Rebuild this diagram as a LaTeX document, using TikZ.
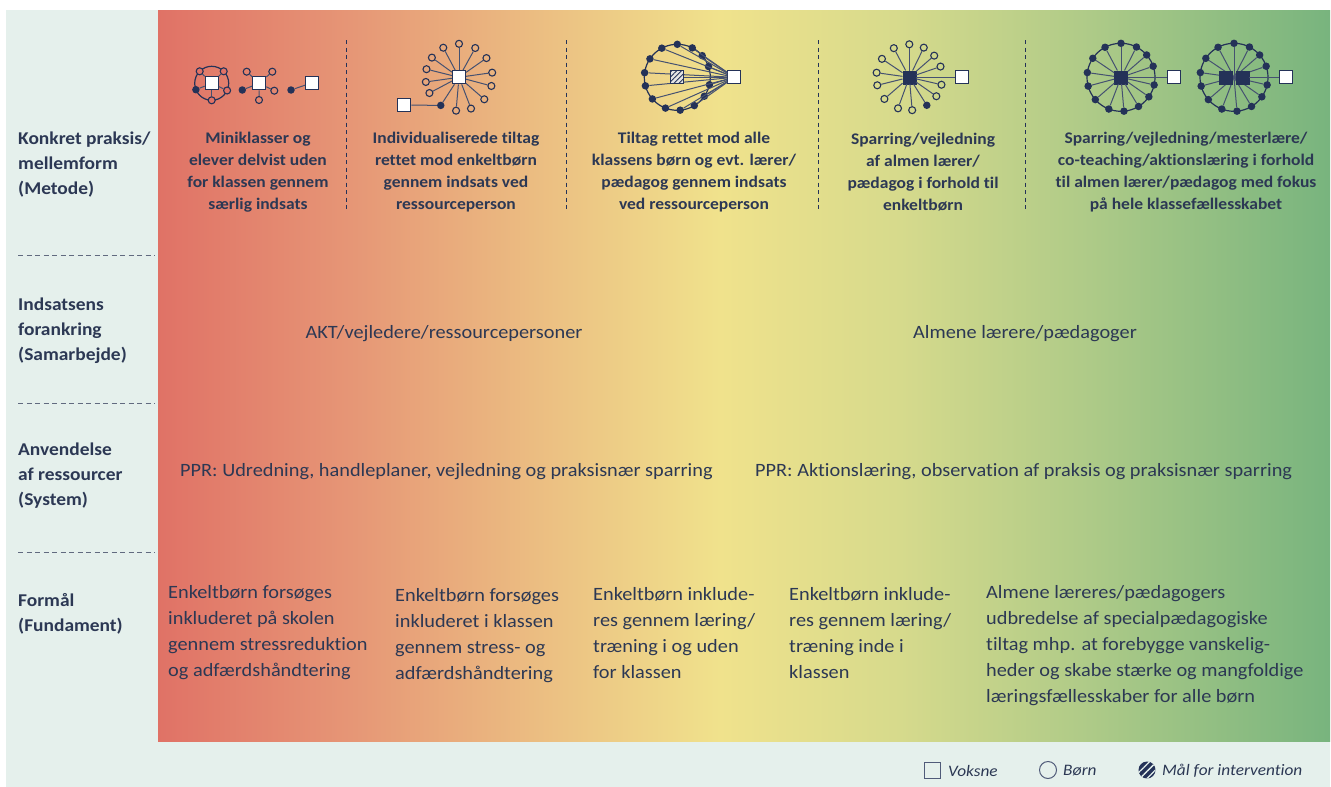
\documentclass[tikz,border=0pt]{standalone}
\usepackage{fontspec}
\setmainfont{Carlito}[FakeStretch=1.08, Ligatures=NoCommon]
\usetikzlibrary{patterns.meta}
\definecolor{navy}{RGB}{36,50,88}
\definecolor{txt}{RGB}{44,56,84}
\definecolor{panel}{RGB}{229,240,236}
\definecolor{g0}{RGB}{224,114,102}
\definecolor{g1}{RGB}{230,150,118}
\definecolor{g2}{RGB}{236,194,131}
\definecolor{g3}{RGB}{240,226,140}
\definecolor{g4}{RGB}{214,218,140}
\definecolor{g5}{RGB}{176,203,136}
\definecolor{g6}{RGB}{120,180,126}
\pgfdeclarehorizontalshading{grad}{100bp}{color(0bp)=(g0); color(25bp)=(g0); color(33.19bp)=(g1); color(42.15bp)=(g2); color(48.98bp)=(g3); color(56.65bp)=(g4); color(64.33bp)=(g5); color(75bp)=(g6); color(100bp)=(g6)}
\tikzset{
 adult/.style={rectangle, draw=navy, fill=white, line width=1.1pt, minimum size=13pt, inner sep=0pt},
 adultdk/.style={rectangle, draw=navy, fill=navy, line width=0.6pt, minimum size=13pt, inner sep=0pt},
 kid/.style={circle, draw=navy, line width=1.1pt, minimum size=7pt, inner sep=0pt},
 goal/.style={circle, fill=navy, minimum size=7.5pt, inner sep=0pt},
 link/.style={draw=navy!85, line width=1pt},
 ringline/.style={draw=navy, line width=1.2pt},
 divider/.style={draw=navy, line width=0.9pt, dash pattern=on 4pt off 3.5pt},
 rowsep/.style={draw=txt!75, line width=1pt, dash pattern=on 5pt off 3.5pt},
 rowlab/.style={anchor=west, align=left, text=txt, font=\fontsize{18}{25}\selectfont\bfseries, inner sep=0pt},
 colhead/.style={align=center, text=txt, font=\fontsize{16.2}{22}\selectfont\bfseries, inner sep=0pt},
 bodytxt/.style={anchor=west, align=left, text=txt, font=\fontsize{18.8}{26}\selectfont, inner sep=0pt},
 legtxt/.style={anchor=west, text=txt, font=\fontsize{16}{18}\selectfont\itshape, inner sep=0pt},
}
\begin{document}
\begin{tikzpicture}[x=1pt,y=-1pt]
\useasboundingbox (0,0) rectangle (1331,787);
\fill[white] (0,0) rectangle (1331,787);
\fill[panel] (6,10) rectangle (1330,787);
\shade[shading=grad] (158,10) rectangle (1330,741);

% separators in left panel
\draw[rowsep] (18,255) -- (155,255);
\draw[rowsep] (18,403) -- (155,403);
\draw[rowsep] (18,552) -- (155,552);

% row labels
\node[rowlab] (lab1) at (18,165) {Konkret praksis/\\mellemform\\(Metode)};
\node[rowlab] (lab2) at (18,331) {Indsatsens\\forankring\\(Samarbejde)};
\node[rowlab] (lab3) at (18,476) {Anvendelse\\af ressourcer\\(System)};
\node[rowlab] (lab4) at (18,613.5) {Formål\\(Fundament)};

% vertical dividers
\foreach \x in {346,566,818,1025} \draw[divider] (\x,40) -- (\x,210);

% column headings
\node[colhead] (h1) at (258,172) {Miniklasser og\\elever delvist uden\\for klassen gennem\\særlig indsats};
\node[colhead] (h2) at (456,172) {Individualiserede tiltag\\rettet mod enkeltbørn\\gennem indsats ved\\ressourceperson};
\node[colhead] (h3) at (694,172) {Tiltag rettet mod alle\\klassens børn og evt. lærer/\\pædagog gennem indsats\\ved ressourceperson};
\node[colhead] (h4) at (923,172) {Sparring/vejledning\\af almen lærer/\\pædagog i forhold til\\enkeltbørn};
\node[colhead] (h5) at (1186,172) {Sparring/vejledning/mesterlære/\\co-teaching/aktionslæring i forhold\\til almen lærer/pædagog med fokus\\på hele klassefællesskabet};

% ---- icons group 1 ----
\coordinate (c1) at (211.7,83.3);
\draw[ringline] (c1) circle[radius=17];
\node[adult] (s1) at (c1) {};
\node[kid,fill=g0] (a1) at (199.7,71.3) {};
\node[kid,fill=g0] (a2) at (223.7,71.3) {};
\node[kid,fill=g0] (a3) at (227.1,90.5) {};
\node[kid,fill=g0] (a4) at (211.7,100.3) {};
\node[goal] (a5) at (195.9,89.7) {};
\foreach \k in {1,...,5} \draw[link] (s1) -- (a\k);

\node[adult] (s2) at (259.3,83.3) {};
\node[kid] (b1) at (246.7,71.7) {};
\node[kid] (b2) at (272.3,71.7) {};
\node[kid] (b3) at (274.3,90.7) {};
\node[kid] (b4) at (259,100) {};
\node[goal] (b5) at (242.3,90) {};
\foreach \k in {1,...,5} \draw[link] (s2) -- (b\k);

\node[goal] (c5) at (291,90) {};
\node[adult] (s3) at (312.3,82.7) {};
\draw[link] (c5) -- (s3);

% ---- group 2 ----
\node[adult] (s4) at (459,77.3) {};
\foreach \a [count=\k] in {90,61,35,8,-15,-41,-69,-95,-152,-172,166,144,118}
  \node[kid] (d\k) at ([shift={(-\a:33.5)}]s4.center) {};
\node[goal] (dg) at ([shift={(123:33.5)}]s4.center) {};
\foreach \k in {1,...,13} \draw[link] (s4) -- (d\k);
\draw[link] (s4) -- (dg);
\node[adult] (s5) at (404.3,105) {};
\draw[link] (dg) -- (s5);

% ---- group 3 ----
\coordinate (c3) at (677.3,77.3);
\node[adult] (s6) at (734.3,77.3) {};
\draw[ringline] (c3) circle[radius=33];
\foreach \a [count=\k] in {90,63,41,19,-13,-35,-59,-85,-111,-139,-165,172,146,118}
  \node[goal] (e\k) at ([shift={(-\a:33)}]c3) {};
\foreach \k in {1,...,14} \draw[link] (s6) -- (e\k);
\node[rectangle, draw=navy, line width=1.1pt, minimum size=13pt, inner sep=0pt,
      preaction={fill=white!80!gray}, pattern={Lines[angle=45,distance=3.5pt,line width=0.9pt]}, pattern color=navy] (s7) at (c3) {};
\draw[link] (s7) -- (s6);

% ---- group 4 ----
\node[adultdk] (s8) at (909.3,77.3) {};
\foreach \a [count=\k] in {90,64,41,19,-13,-35,-85,-110,-139,-166,172,146,118}
  \node[kid] (f\k) at ([shift={(-\a:33)}]s8.center) {};
\node[goal] (fg) at ([shift={(58:33)}]s8.center) {};
\foreach \k in {1,...,13} \draw[link] (s8) -- (f\k);
\draw[link] (s8) -- (fg);
\node[adult] (s9) at (962.3,77.3) {};
\draw[link] (s8) -- (s9);

% ---- group 5 left ----
\coordinate (c5a) at (1121,77.3);
\draw[ringline] (c5a) circle[radius=34];
\node[adultdk] (s10) at (c5a) {};
\foreach \a [count=\k] in {90,63,41,19,-13,-35,-59,-85,-111,-139,-165,172,146,118}
  \node[goal] (g\k) at ([shift={(-\a:34)}]c5a) {};
\foreach \k in {1,...,14} \draw[link] (s10) -- (g\k);
\node[adult] (s11) at (1174,77.3) {};
\draw[link] (s10) -- (s11);

% ---- group 5 right ----
\coordinate (c5b) at (1234,77.3);
\draw[ringline] (c5b) circle[radius=34];
\foreach \a [count=\k] in {90,63,41,19,-13,-35,-59,-85,-111,-139,-165,172,146,118}
  \node[goal] (h\k) at ([shift={(-\a:34)}]c5b) {};
\foreach \k in {1,...,14} \draw[link] (c5b) -- (h\k);
\node[adultdk] (s12) at (1225.7,77.3) {};
\node[adultdk] (s13) at (1242.3,77.3) {};
\node[adult] (s14) at (1286,77.3) {};
\draw[link] (s13) -- (s14);

% ---- row 2 ----
\node[text=txt, font=\fontsize{18.8}{26}\selectfont, inner sep=0pt] (r2a) at (444,334) {AKT/vejledere/ressourcepersoner};
\node[text=txt, font=\fontsize{18.8}{26}\selectfont, inner sep=0pt] (r2b) at (1025,334) {Almene lærere/pædagoger};

% ---- row 3 ----
\node[bodytxt] (r3a) at (180,472) {PPR: Udredning, handleplaner, vejledning og praksisnær sparring};
\node[bodytxt] (r3b) at (755,472) {PPR: Aktionslæring, observation af praksis og praksisnær sparring};

% ---- row 4 ----
\node[bodytxt] (r4a) at (168,633) {Enkeltbørn forsøges\\inkluderet på skolen\\gennem stressreduktion\\og adfærdshåndtering};
\node[bodytxt] (r4b) at (395,636) {Enkeltbørn forsøges\\inkluderet i klassen\\gennem stress- og\\adfærdshåndtering};
\node[bodytxt] (r4c) at (593,633) {Enkeltbørn inklude-\\res gennem læring/\\træning i og uden\\for klassen};
\node[bodytxt] (r4d) at (789,633) {Enkeltbørn inklude-\\res gennem læring/\\træning inde i\\klassen};
\node[bodytxt] (r4e) at (986,646) {Almene læreres/pædagogers\\udbredelse af specialpædagogiske\\tiltag mhp. at forebygge vanskelig-\\heder og skabe stærke og mangfoldige\\læringsfællesskaber for alle børn};

% ---- legend ----
\node[rectangle, draw=navy!80, line width=1pt, minimum size=16pt, inner sep=0pt] (lsq) at (932,770) {};
\node[legtxt] (lt1) at (948,771) {Voksne};
\node[circle, draw=navy!80, line width=1pt, minimum size=17pt, inner sep=0pt] (lci) at (1048,770) {};
\node[legtxt] (lt2) at (1063,771) {Børn};
\node[circle, minimum size=17pt, inner sep=0pt, preaction={fill=navy}, pattern={Lines[angle=45,distance=5pt,line width=1.3pt]}, pattern color=panel] (lgo) at (1147,770) {};
\node[legtxt] (lt3) at (1162,771) {Mål for intervention};
\end{tikzpicture}
\end{document}
